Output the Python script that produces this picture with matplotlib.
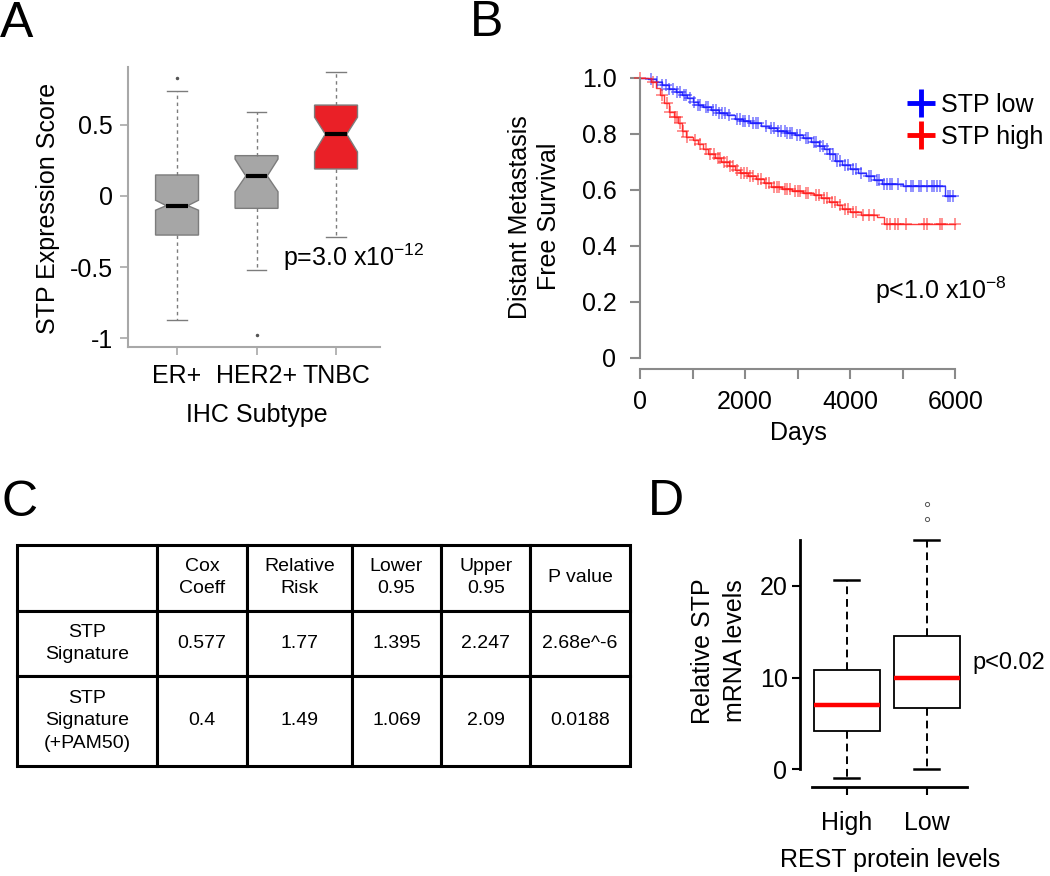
import numpy as np
import matplotlib
matplotlib.use("Agg")
from matplotlib import pyplot as plt
from matplotlib.lines import Line2D

plt.rcParams['font.family'] = ['Liberation Sans', 'DejaVu Sans']
plt.rcParams['mathtext.fontset'] = 'custom'
plt.rcParams['mathtext.rm'] = 'Liberation Sans'
plt.rcParams['mathtext.it'] = 'Liberation Sans'

# ---- panel A: STP score by IHC subtype (notched boxes)
subtypes = ["ER+", "HER2+", "TNBC"]
a_med = [-0.068, 0.141, 0.435]
a_q1 = [-0.275, -0.087, 0.19]
a_q3 = [0.148, 0.284, 0.64]
a_whislo = [-0.873, -0.52, -0.29]
a_whishi = [0.74, 0.59, 0.87]
a_cilo = [-0.10, 0.03, 0.31]
a_cihi = [-0.03, 0.26, 0.554]
a_fliers = [[0.83], [-0.98], []]
a_colors = ["#a6a6a6", "#a6a6a6", "#ea2027"]

# ---- panel B: Kaplan-Meier, distant metastasis free survival
low_t = [0, 150, 300, 420, 550, 680, 800, 900, 1000, 1100, 1200, 1350, 1500, 1650, 1800,
         1950, 2100, 2300, 2450, 2600, 2800, 2950, 3100, 3250, 3400, 3500, 3600, 3700, 3850,
         4000, 4150, 4300, 4450, 4600, 5000, 5800, 5990]
low_s = [1.0, 0.995, 0.985, 0.975, 0.96, 0.95, 0.94, 0.928, 0.915, 0.905, 0.895, 0.885, 0.875,
         0.866, 0.855, 0.845, 0.838, 0.83, 0.82, 0.812, 0.805, 0.795, 0.785, 0.772, 0.758,
         0.745, 0.728, 0.705, 0.69, 0.675, 0.662, 0.648, 0.635, 0.622, 0.614, 0.578, 0.578]
low_cens = [200, 330, 420, 500, 560, 620, 700, 760, 830, 880, 950, 1020, 1100, 1150, 1250,
            1300, 1380, 1450, 1500, 1560, 1620, 1700, 1850, 1900, 1960, 2000, 2080, 2150, 2200,
            2250, 2400, 2500, 2550, 2620, 2680, 2750, 2800, 2850, 2900, 2980, 3050, 3150, 3200,
            3300, 3350, 3420, 3480, 3550, 3620, 3680, 3750, 3800, 3900, 3950, 4050, 4100, 4200,
            4350, 4400, 4500, 4550, 4650, 4700, 4750, 4800, 4900, 5050, 5150, 5200, 5300, 5350,
            5450, 5550, 5600, 5650, 5700, 5850, 5900, 5950]

high_t = [0, 200, 300, 380, 460, 550, 640, 720, 800, 880, 1000, 1100, 1200, 1300, 1420, 1550,
          1700, 1800, 1900, 2050, 2200, 2350, 2500, 2700, 2900, 3100, 3300, 3450, 3600, 3750,
          3850, 4000, 4200, 4500, 4650, 6000]
high_s = [1.0, 0.985, 0.965, 0.94, 0.91, 0.88, 0.86, 0.84, 0.81, 0.79, 0.78, 0.765, 0.745,
          0.73, 0.715, 0.7, 0.685, 0.67, 0.66, 0.65, 0.64, 0.625, 0.612, 0.603, 0.595, 0.588,
          0.58, 0.57, 0.558, 0.545, 0.53, 0.52, 0.51, 0.502, 0.478, 0.478]
high_cens = [0, 250, 420, 520, 580, 660, 700, 760, 820, 900, 1050, 1150, 1250, 1330, 1400, 1480,
             1530, 1600, 1650, 1720, 1760, 1850, 1920, 1980, 2030, 2100, 2150, 2250, 2300, 2400,
             2450, 2550, 2600, 2650, 2750, 2800, 2850, 2950, 3000, 3050, 3150, 3200, 3350, 3400,
             3500, 3550, 3650, 3700, 3800, 3900, 3950, 4050, 4100, 4250, 4350, 4450, 4700, 4750,
             4850, 4900, 5050, 5400, 5450, 5700, 5750, 6000]

# ---- panel C: Cox regression table
col_labels = ["", "Cox\nCoeff", "Relative\nRisk", "Lower\n0.95", "Upper\n0.95", "P value"]
row_labels = ["STP\nSignature", "STP\nSignature\n(+PAM50)"]
cox_coeff = [0.577, 0.4]
relative_risk = [1.77, 1.49]
lower95 = [1.395, 1.069]
upper95 = [2.247, 2.09]
p_values = ["2.68e^-6", "0.0188"]

# ---- panel D: STP mRNA by REST protein level
rest_groups = ["High", "Low"]
d_med = [7.01, 9.99]
d_q1 = [4.21, 6.65]
d_q3 = [10.83, 14.57]
d_whislo = [-0.98, 0.07]
d_whishi = [20.6, 25.0]
d_fliers = [[], [27.3, 28.9]]

W, H = 1050, 876
FS = 18


def rect(l, t, r, b):
    return [l / W, 1 - b / H, (r - l) / W, (b - t) / H]


def ftext(x, y, s, **kw):
    kw.setdefault('fontsize', FS)
    return fig.text(x / W, 1 - y / H, s, **kw)


fig = plt.figure(figsize=(W / 100, H / 100), dpi=100)

# panel letters
for letter, (lx, ly) in zip("ABCD", [(0, 37), (470, 36), (2, 516), (648, 515)]):
    ftext(lx, ly, letter, fontsize=36, ha='left', va='baseline')

# ---------------- A
axA = fig.add_axes(rect(128.3, 67, 380, 347))
stats = []
for i in range(len(subtypes)):
    stats.append(dict(med=a_med[i], q1=a_q1[i], q3=a_q3[i], whislo=a_whislo[i],
                      whishi=a_whishi[i], cilo=a_cilo[i], cihi=a_cihi[i],
                      fliers=a_fliers[i], label=subtypes[i]))
gray = "#7c7c7c"
bp = axA.bxp(stats, positions=[1, 2, 3], widths=0.54, capwidths=0.24, shownotches=True,
             patch_artist=True,
             boxprops=dict(edgecolor=gray, linewidth=1),
             medianprops=dict(color='k', linewidth=3),
             whiskerprops=dict(color=gray, linestyle=(0, (2.5, 2.5)), linewidth=1),
             capprops=dict(color=gray, linewidth=1),
             flierprops=dict(marker='.', markersize=3, markerfacecolor='#555555',
                             markeredgecolor='#555555'))
for patch, c in zip(bp['boxes'], a_colors):
    patch.set_facecolor(c)
axA.set_xlim(0.387, 3.553)
axA.set_ylim(-1.063, 0.908)
axA.set_yticks([-1, -0.5, 0, 0.5])
axA.set_yticklabels(["-1", "-0.5", "0", "0.5"])
for side in ['top', 'right']:
    axA.spines[side].set_visible(False)
for side in ['left', 'bottom']:
    axA.spines[side].set_color('#a8a8a8')
    axA.spines[side].set_linewidth(1.5)
axA.tick_params(axis='both', colors='#a8a8a8', labelcolor='k', labelsize=FS, length=6, width=1.2)
axA.tick_params(axis='y', pad=5)
axA.tick_params(axis='x', pad=6)
ftext(48, 208, "STP Expression Score", rotation=90, ha='center', va='center')
ftext(257, 415, "IHC Subtype", ha='center', va='center')
ftext(283, 257, r"p=3.0 x10$^{-12}$", ha='left', va='center')

# ---------------- B
axB = fig.add_axes(rect(640, 69.6, 958.1, 357.7))
for t, s, cens, col in [(low_t, low_s, low_cens, '#1a1aff'), (high_t, high_s, high_cens, '#ff1a1a')]:
    t = np.array(t)
    s = np.array(s)
    axB.step(t, s, where='post', color=col, linewidth=1, alpha=0.85)
    cy = s[np.searchsorted(t, cens, side='right') - 1]
    axB.plot(cens, cy, linestyle='none', marker='+', markersize=8, markeredgewidth=1.1,
             color=col, alpha=0.6, clip_on=False)
axB.set_xlim(0, 6050)
axB.set_ylim(0, 1.03)
axB.set_xticks([0, 2000, 4000, 6000])
axB.set_xticks([1000, 3000, 5000], minor=True)
axB.set_yticks([0, 0.2, 0.4, 0.6, 0.8, 1.0])
axB.set_yticklabels(["0", "0.2", "0.4", "0.6", "0.8", "1.0"])
for side in ['top', 'right']:
    axB.spines[side].set_visible(False)
axB.spines['bottom'].set_position(('outward', 8.4))
axB.spines['bottom'].set_bounds(0, 6000)
axB.spines['left'].set_bounds(0, 1)
for side in ['left', 'bottom']:
    axB.spines[side].set_color('#8a8a8a')
    axB.spines[side].set_linewidth(1.5)
axB.tick_params(axis='both', which='both', colors='#8a8a8a', labelcolor='k', labelsize=FS,
                length=7, width=1.5)
axB.tick_params(axis='y', pad=10)
axB.tick_params(axis='x', pad=8)
handles = [Line2D([], [], linestyle='none', marker='+', markersize=20, markeredgewidth=3.5,
                  color='#0000ff'),
           Line2D([], [], linestyle='none', marker='+', markersize=20, markeredgewidth=3.5,
                  color='#ff0000')]
fig.legend(handles, ["STP low", "STP high"], loc='upper left',
           bbox_to_anchor=(906 / W, 1 - 93 / H), frameon=False, fontsize=FS, borderpad=0,
           borderaxespad=0, handlelength=1.2, handletextpad=0.2, labelspacing=0.32)
ftext(534.5, 216.7, "Distant Metastasis\nFree Survival", rotation=90, ha='center',
      va='center', multialignment='center', linespacing=1.3)
ftext(798, 433, "Days", ha='center', va='center')
ftext(875, 290, r"p<1.0 x10$^{-8}$", ha='left', va='center')

# ---------------- C
axC = fig.add_axes(rect(17, 545, 629.5, 765.7))
axC.axis('off')
cells = [col_labels]
for i in range(len(row_labels)):
    cells.append([row_labels[i], str(cox_coeff[i]), str(relative_risk[i]), str(lower95[i]),
                  str(upper95[i]), p_values[i]])
tab = axC.table(cellText=cells, cellLoc='center', bbox=[0, 0, 1, 1])
tab.auto_set_font_size(False)
tab.set_fontsize(14)
col_w = [140.1, 89.8, 104.9, 89.3, 89.3, 99.1]
row_h = [65.6, 65.4, 89.7]
for (r, c), cell in tab.get_celld().items():
    cell.set_width(col_w[c] / sum(col_w))
    cell.set_height(row_h[r] / sum(row_h))
    cell.set_linewidth(2.2)
    cell.set_edgecolor('k')
    cell.get_text().set_linespacing(1.4)

# ---------------- D
axD = fig.add_axes(rect(800, 494.3, 974.7, 787.3))
dstats = []
for i in range(len(rest_groups)):
    dstats.append(dict(med=d_med[i], q1=d_q1[i], q3=d_q3[i], whislo=d_whislo[i],
                       whishi=d_whishi[i], fliers=d_fliers[i], label=rest_groups[i]))
axD.bxp(dstats, positions=[1, 2], widths=0.83, capwidths=0.31, patch_artist=True,
        boxprops=dict(facecolor='white', edgecolor='k', linewidth=1.3),
        medianprops=dict(color='#ff0000', linewidth=3.2),
        whiskerprops=dict(color='k', linestyle=(0, (4, 2.5)), linewidth=1.4),
        capprops=dict(color='k', linewidth=1.8),
        flierprops=dict(marker='o', markersize=3, markerfacecolor='none',
                        markeredgecolor='#555555', markeredgewidth=0.7))
axD.set_xlim(0.416, 2.6)
axD.set_ylim(-1.963, 30)
axD.set_yticks([0, 10, 20])
for side in ['top', 'right']:
    axD.spines[side].set_visible(False)
axD.spines['left'].set_bounds(0, 25)
axD.spines['bottom'].set_bounds(0.56, 2.5)
for side in ['left', 'bottom']:
    axD.spines[side].set_linewidth(2)
axD.tick_params(axis='both', labelsize=FS, length=6, width=1.5)
axD.tick_params(axis='y', pad=3)
axD.tick_params(axis='x', pad=11)
ftext(719, 651, "Relative STP\nmRNA levels", rotation=90, ha='center', va='center',
      multialignment='center', linespacing=1.4)
ftext(890, 860, "REST protein levels", ha='center', va='center')
ftext(972, 663, "p<0.02", ha='left', va='center', fontsize=17)

fig.savefig("out.png", dpi=100)
